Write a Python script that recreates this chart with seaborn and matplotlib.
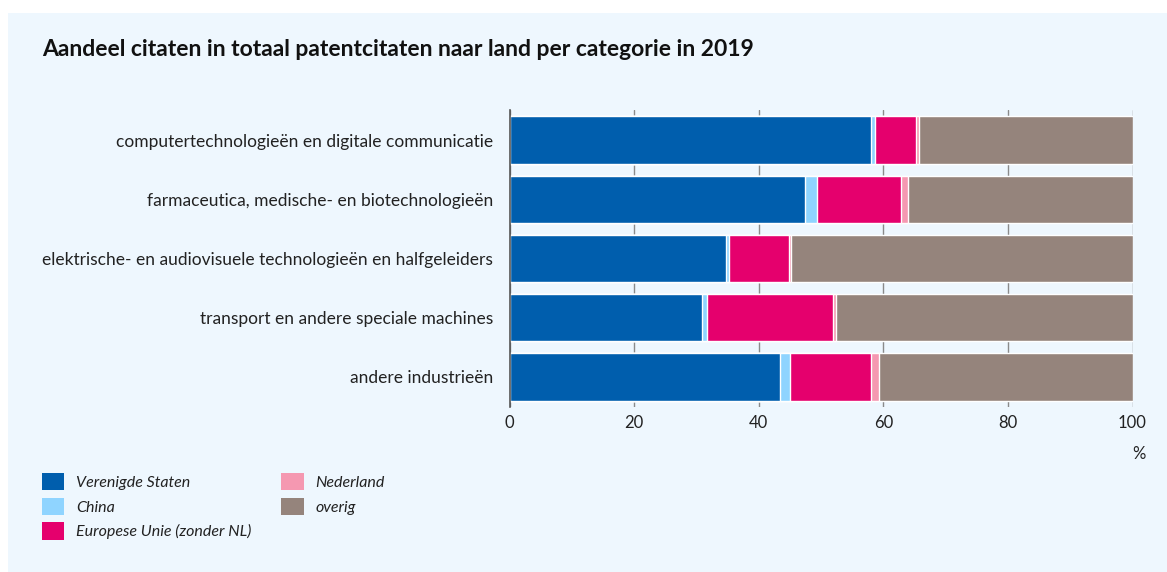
import matplotlib
matplotlib.use("Agg")
from matplotlib import pyplot as plt
from matplotlib.patches import Rectangle, Patch
import pandas as pd
import seaborn as sns

categories = [
    "computertechnologieën en digitale communicatie",
    "farmaceutica, medische- en biotechnologieën",
    "elektrische- en audiovisuele technologieën en halfgeleiders",
    "transport en andere speciale machines",
    "andere industrieën",
]
series = ["Verenigde Staten", "China", "Europese Unie (zonder NL)", "Nederland", "overig"]
verenigde_staten = [58.1, 47.5, 34.8, 30.9, 43.4]
china = [0.6, 1.8, 0.5, 0.8, 1.6]
europese_unie = [6.5, 13.6, 9.5, 20.3, 13.1]
nederland = [0.5, 1.0, 0.4, 0.4, 1.2]
overig = [34.3, 36.1, 54.8, 47.6, 40.7]
colors = ["#005EAD", "#8FD4FF", "#E5006D", "#F598B1", "#95847C"]
bg = "#EEF7FE"

values = [verenigde_staten, china, europese_unie, nederland, overig]
df = pd.DataFrame({"categorie": categories})
running = [0.0] * len(categories)
for name, vals in zip(series, values):
    running = [r + v for r, v in zip(running, vals)]
    df[name] = running

sns.set_style("white")
plt.rcParams["font.family"] = ["Lato", "DejaVu Sans"]

fig = plt.figure(figsize=(11.67, 5.72), dpi=100)
fig.patch.set_facecolor("white")
fig.patches.append(Rectangle((8 / 1167, 0), 1, 1 - 13 / 572, transform=fig.transFigure,
                             facecolor=bg, edgecolor="none", zorder=-10))
ax = fig.add_axes([509.5 / 1167, 1 - 406.6 / 572, 623 / 1167, 296.2 / 572])
ax.set_facecolor(bg)

# stacked: draw the cumulative totals from the outermost layer inward
for name, col in reversed(list(zip(series, colors))):
    sns.barplot(data=df, x=name, y="categorie", color=col, width=0.8,
                saturation=1, orient="h", ax=ax, zorder=2)

ax.set_xlim(0, 100)
ax.set_xticks([0, 20, 40, 60, 80, 100])
ax.set_xlabel("")
ax.set_ylabel("")
ax.xaxis.grid(True, color="#8a8a8a", linewidth=1, zorder=0)
ax.set_axisbelow(True)
for s in ["top", "right", "bottom"]:
    ax.spines[s].set_visible(False)
ax.spines["left"].set_color("#555555")
ax.spines["left"].set_linewidth(1.2)
ax.spines["left"].set_zorder(3)
ax.tick_params(axis="x", length=4, color="#8a8a8a", labelsize=12, pad=2, labelcolor="#222222")
ax.tick_params(axis="y", length=6, color="#8a8a8a", labelsize=12.5, pad=6, labelcolor="#222222")
ax.text(1.0, -0.16, "%", transform=ax.transAxes, ha="left", va="center",
        fontsize=12, color="#222222")

fig.text(42 / 1167, 1 - 50 / 572, "Aandeel citaten in totaal patentcitaten naar land per categorie in 2019",
         fontsize=16.5, fontweight="bold", color="#111111", va="center", ha="left")

handles = [Patch(facecolor=c, edgecolor="none") for c in colors]
leg = fig.legend(handles, series, ncol=2, loc="upper left",
                 bbox_to_anchor=(42 / 1167, 1 - 473 / 572), frameon=False,
                 borderpad=0, borderaxespad=0,
                 handlelength=1.4, handleheight=1.3, handletextpad=0.75,
                 labelspacing=0.45, columnspacing=1.85,
                 prop={"style": "italic", "size": 11.5})
for t in leg.get_texts():
    t.set_color("#222222")

fig.savefig("out.png", dpi=100, facecolor=fig.get_facecolor())
